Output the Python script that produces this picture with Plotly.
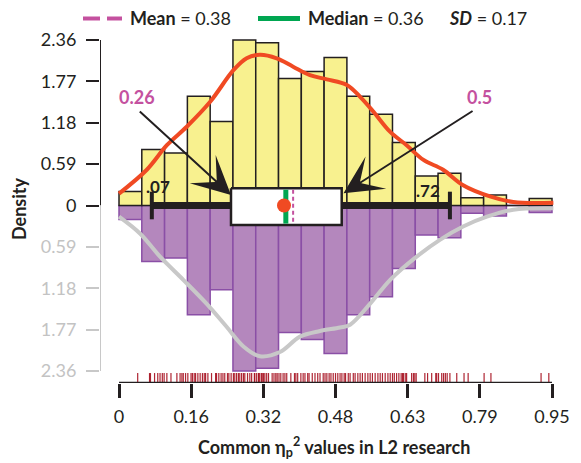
import plotly.graph_objects as go

# ---------------- data ----------------
bin_edges_start = [0.00, 0.05, 0.10, 0.15, 0.20, 0.25, 0.30, 0.35, 0.40, 0.45,
                   0.50, 0.55, 0.60, 0.65, 0.70, 0.75, 0.80, 0.85, 0.90]
bin_density = [0.20, 0.80, 0.75, 1.56, 1.20, 2.36, 2.32, 1.81, 1.91, 2.11,
               1.56, 1.30, 0.90, 0.42, 0.46, 0.11, 0.15, 0.00, 0.10]
bin_width = 0.05

kde_top_x = [0.0, 0.061, 0.105, 0.148, 0.20, 0.251, 0.28, 0.309, 0.346, 0.382, 0.419,
             0.456, 0.50, 0.529, 0.558, 0.595, 0.631, 0.668, 0.711, 0.755, 0.814, 0.865, 0.953]
kde_top_y = [0.17, 0.51, 0.86, 1.12, 1.48, 1.93, 2.10, 2.15, 2.10, 1.98, 1.86,
             1.80, 1.72, 1.55, 1.34, 1.05, 0.86, 0.65, 0.51, 0.29, 0.13, 0.05, 0.04]

kde_bot_x = [0.0, 0.046, 0.09, 0.141, 0.192, 0.236, 0.273, 0.309, 0.353, 0.397, 0.441,
             0.485, 0.507, 0.551, 0.595, 0.653, 0.704, 0.755, 0.807, 0.865, 0.953]
kde_bot_y = [0.16, 0.40, 0.73, 1.06, 1.40, 1.73, 2.01, 2.15, 2.09, 1.87, 1.79,
             1.74, 1.70, 1.40, 1.06, 0.73, 0.49, 0.30, 0.16, 0.06, 0.04]

rug_values = [
    0.041, 0.067, 0.069, 0.078, 0.085, 0.090, 0.095, 0.099, 0.105, 0.114, 0.127,
    0.134, 0.138, 0.141, 0.146, 0.151, 0.158, 0.161, 0.165, 0.168, 0.173, 0.178,
    0.183, 0.187, 0.190, 0.195, 0.203, 0.212, 0.214, 0.219, 0.224, 0.228, 0.232,
    0.238, 0.241, 0.246, 0.251, 0.254, 0.258, 0.262, 0.265, 0.269, 0.273, 0.276,
    0.282, 0.287, 0.291, 0.297, 0.298, 0.302, 0.306, 0.307, 0.309, 0.313, 0.314,
    0.317, 0.320, 0.324, 0.328, 0.336, 0.340, 0.344, 0.347, 0.351, 0.355, 0.360,
    0.364, 0.368, 0.377, 0.385, 0.388, 0.392, 0.399, 0.404, 0.408, 0.414, 0.417,
    0.424, 0.430, 0.436, 0.441, 0.448, 0.452, 0.456, 0.461, 0.465, 0.470, 0.475,
    0.480, 0.485, 0.489, 0.494, 0.497, 0.503, 0.507, 0.514, 0.518, 0.524, 0.529,
    0.534, 0.540, 0.546, 0.551, 0.556, 0.562, 0.568, 0.573, 0.578, 0.584, 0.590,
    0.595, 0.600, 0.604, 0.609, 0.614, 0.619, 0.622, 0.624, 0.628, 0.631, 0.642,
    0.646, 0.649, 0.652, 0.671, 0.677, 0.686, 0.695, 0.697, 0.701, 0.708, 0.712,
    0.716, 0.720, 0.726, 0.741, 0.757, 0.766, 0.801, 0.816, 0.926, 0.943]

q1, q3 = 0.2457, 0.4886
median_val = 0.366
mean_val = 0.382
dot_val = 0.362
whisker_lo, whisker_hi = 0.072, 0.726
q1_label, q3_label = "0.26", "0.5"
wlo_label, whi_label = ".07", ".72"

x_tickvals = [0, 0.95 / 6, 2 * 0.95 / 6, 3 * 0.95 / 6, 4 * 0.95 / 6, 5 * 0.95 / 6, 0.95]
x_ticktext = ["0", "0.16", "0.32", "0.48", "0.63", "0.79", "0.95"]
y_tickvals = [0, 0.59, 1.18, 1.77, 2.36]
y_ticktext = ["0", "0.59", "1.18", "1.77", "2.36"]

legend_mean = "<b>Mean</b> = 0.38"
legend_median = "<b>Median</b> = 0.36"
legend_sd = "<b><i>SD</i></b> = 0.17"

# ---------------- styling ----------------
OFF = 8  # page body margin
W, H = 581 - OFF, 463 - OFF
PLOT_L, PLOT_R, PLOT_T, PLOT_B = 100, 565, 30, 383  # in screen pixels
ML, MR = PLOT_L - OFF, W - (PLOT_R - OFF)
MT, MB = PLOT_T - OFF, H - (PLOT_B - OFF)
PW, PH = PLOT_R - PLOT_L, PLOT_B - PLOT_T
XR = [-0.0417, 0.9785]
YR = [-2.532, 2.5036]
FONT = "Lato"
DARK = "#231f20"
PINK = "#c4519f"
GREEN = "#00a651"
RED = "#f04a23"
GRAY = "#c8c8c8"


def pxx(px):
    return (px - PLOT_L) / PW


def pxy(py):
    return (PLOT_B - py) / PH


centers = [s + bin_width / 2 for s in bin_edges_start]

fig = go.Figure()

# lower (mirrored) histogram
fig.add_trace(go.Bar(x=centers, y=[-d for d in bin_density], width=bin_width,
                     marker=dict(color="#b487bd", line=dict(color="#8a4fa6", width=1.5)),
                     showlegend=False, hoverinfo="skip"))
# upper histogram
fig.add_trace(go.Bar(x=centers, y=bin_density, width=bin_width,
                     marker=dict(color="#f8f18f", line=dict(color=DARK, width=1.5)),
                     showlegend=False, hoverinfo="skip"))

# KDE curves
fig.add_trace(go.Scatter(x=kde_bot_x, y=[-v for v in kde_bot_y], mode="lines",
                         line=dict(color=GRAY, width=4, shape="spline", smoothing=1.0),
                         showlegend=False, hoverinfo="skip"))
fig.add_trace(go.Scatter(x=kde_top_x, y=kde_top_y, mode="lines",
                         line=dict(color=RED, width=4, shape="spline", smoothing=1.0),
                         showlegend=False, hoverinfo="skip"))

# whisker line and caps
fig.add_trace(go.Scatter(x=[whisker_lo, whisker_hi], y=[0, 0], mode="lines",
                         line=dict(color=DARK, width=7), showlegend=False, hoverinfo="skip"))
for wv in (whisker_lo, whisker_hi):
    fig.add_trace(go.Scatter(x=[wv, wv], y=[0.197, -0.197], mode="lines",
                             line=dict(color=DARK, width=4), showlegend=False, hoverinfo="skip"))

# box
bt, bb = 0.245, -0.278
fig.add_trace(go.Scatter(x=[q1, q3, q3, q1, q1], y=[bt, bt, bb, bb, bt], mode="lines",
                         fill="toself", fillcolor="white",
                         line=dict(color=DARK, width=2.5), showlegend=False, hoverinfo="skip"))
fig.add_trace(go.Scatter(x=[median_val, median_val], y=[bt - 0.02, bb + 0.02], mode="lines",
                         line=dict(color=GREEN, width=5), showlegend=False, hoverinfo="skip"))
fig.add_trace(go.Scatter(x=[mean_val, mean_val], y=[bt - 0.02, bb + 0.02], mode="lines",
                         line=dict(color=PINK, width=2, dash="4px,3px"), showlegend=False,
                         hoverinfo="skip"))
fig.add_trace(go.Scatter(x=[dot_val], y=[0.0], mode="markers",
                         marker=dict(color=RED, size=14), showlegend=False, hoverinfo="skip"))

# rug
rx, ry = [], []
for v in rug_values:
    rx += [v, v, None]
    ry += [-2.39, -2.525, None]
fig.add_trace(go.Scatter(x=rx, y=ry, mode="lines",
                         line=dict(color="rgba(165,13,29,0.9)", width=1.2),
                         showlegend=False, hoverinfo="skip"))

# axis lines
fig.add_trace(go.Scatter(x=[0, 0.95], y=[YR[0], YR[0]], mode="lines", cliponaxis=False,
                         line=dict(color=DARK, width=2.5), showlegend=False, hoverinfo="skip"))
fig.add_trace(go.Scatter(x=[XR[0], XR[0]], y=[0, 2.36], mode="lines", cliponaxis=False,
                         line=dict(color=DARK, width=2), showlegend=False, hoverinfo="skip"))
fig.add_trace(go.Scatter(x=[XR[0], XR[0]], y=[0, -2.36], mode="lines", cliponaxis=False,
                         line=dict(color=GRAY, width=2), showlegend=False, hoverinfo="skip"))
# dummy trace for the lower y-axis
fig.add_trace(go.Scatter(x=[None], y=[None], yaxis="y2", showlegend=False, hoverinfo="skip"))

# arrows
fig.add_annotation(x=q1, y=0.15, ax=0.0423, ay=1.362, axref="x", ayref="y", xref="x", yref="y",
                   text="", showarrow=True, arrowhead=3, arrowsize=3.2, arrowwidth=2,
                   arrowcolor=DARK)
fig.add_annotation(x=q3 + 0.004, y=0.174, ax=0.779, ay=1.362, axref="x", ayref="y", xref="x",
                   yref="y", text="", showarrow=True, arrowhead=3, arrowsize=3.2, arrowwidth=2,
                   arrowcolor=DARK)
for txt, xv, yv, sz, col in ((q1_label, 0.0388, 1.555, 18, PINK),
                             (q3_label, 0.792, 1.555, 18, PINK),
                             (wlo_label, 0.0845, 0.278, 17, DARK),
                             (whi_label, 0.678, 0.221, 17, DARK)):
    fig.add_annotation(x=xv, y=yv, xref="x", yref="y", text="<b>%s</b>" % txt,
                       xanchor="center", yanchor="middle", showarrow=False,
                       font=dict(family=FONT, size=sz, color=col))

# legend (drawn)
LY = 18.5
fig.add_shape(type="line", xref="paper", yref="paper", x0=pxx(83), x1=pxx(100), y0=pxy(LY),
              y1=pxy(LY), line=dict(color=PINK, width=4))
fig.add_shape(type="line", xref="paper", yref="paper", x0=pxx(107), x1=pxx(122), y0=pxy(LY),
              y1=pxy(LY), line=dict(color=PINK, width=4))
fig.add_shape(type="line", xref="paper", yref="paper", x0=pxx(258), x1=pxx(300), y0=pxy(LY),
              y1=pxy(LY), line=dict(color=GREEN, width=5))
for txt, xp in ((legend_mean, 129), (legend_median, 307), (legend_sd, 448)):
    fig.add_annotation(x=pxx(xp), y=pxy(LY), xref="paper", yref="paper", text=txt,
                       xanchor="left", yanchor="middle", showarrow=False, borderpad=0,
                       font=dict(family=FONT, size=18, color=DARK))

# axis titles
fig.add_annotation(x=pxx(19), y=pxy(209), xref="paper", yref="paper", text="<b>Density</b>",
                   textangle=-90, xanchor="center", yanchor="middle", showarrow=False,
                   font=dict(family=FONT, size=18, color=DARK))
fig.add_annotation(x=pxx(334), y=pxy(447), xref="paper", yref="paper",
                   text="<b>Common η<sub>p</sub><sup>2</sup> values in L2 research</b>",
                   xanchor="center", yanchor="middle", showarrow=False,
                   font=dict(family=FONT, size=18, color=DARK))

fig.update_layout(
    width=W, height=H, margin=dict(l=ML, r=MR, t=MT, b=MB, autoexpand=False),
    paper_bgcolor="white", plot_bgcolor="white", barmode="overlay",
    font=dict(family=FONT, size=18, color=DARK),
    xaxis=dict(range=XR, showgrid=False, zeroline=False, showline=False, automargin=False,
               tickvals=x_tickvals, ticktext=x_ticktext, ticks="outside", ticklen=14,
               tickwidth=2.5, tickcolor=DARK, ticklabelstandoff=3,
               tickfont=dict(family=FONT, size=18, color=DARK)),
    yaxis=dict(range=YR, showgrid=False, zeroline=False, showline=False, automargin=False,
               tickvals=y_tickvals, ticktext=y_ticktext, ticks="outside", ticklen=13,
               tickwidth=2, tickcolor=DARK, ticklabelstandoff=6,
               tickfont=dict(family=FONT, size=18, color=DARK)),
    yaxis2=dict(range=YR, overlaying="y", side="left", showgrid=False, zeroline=False,
                showline=False, automargin=False,
                tickvals=[-v for v in y_tickvals[1:]], ticktext=y_ticktext[1:],
                ticks="outside", ticklen=13, tickwidth=2, tickcolor=GRAY, ticklabelstandoff=6,
                tickfont=dict(family=FONT, size=18, color="#c3c3c3")),
)

fig.write_html("out.html")
